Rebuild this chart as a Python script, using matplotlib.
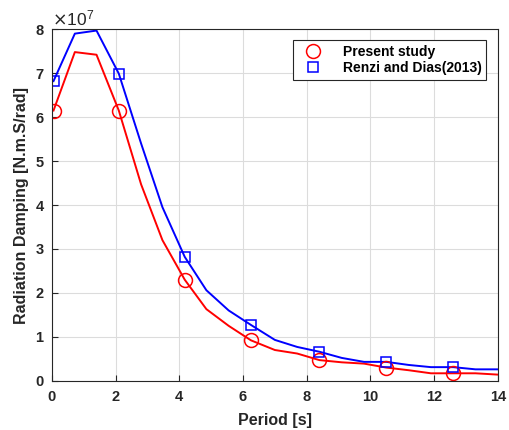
import numpy as np
import matplotlib
matplotlib.use('Agg')
import matplotlib.pyplot as plt
from matplotlib.ticker import ScalarFormatter

plt.rcParams['font.family'] = ['Liberation Sans', 'DejaVu Sans']

# period [s] and radiation damping [x1e7 N.m.S/rad]
period = np.array([0.05, 0.72, 1.40, 2.10, 2.80, 3.47, 4.17, 4.85, 5.55, 6.25,
                   7.00, 7.70, 8.40, 9.10, 9.80, 10.50, 11.20, 11.90, 12.60, 13.30, 14.00])
present = np.array([6.15, 7.48, 7.42, 6.15, 4.47, 3.20, 2.30, 1.63, 1.25, 0.92,
                    0.70, 0.62, 0.47, 0.42, 0.39, 0.30, 0.24, 0.17, 0.17, 0.17, 0.14])
renzi = np.array([6.82, 7.90, 7.97, 6.99, 5.40, 3.95, 2.82, 2.06, 1.60, 1.27,
                  0.93, 0.77, 0.66, 0.52, 0.43, 0.43, 0.36, 0.31, 0.31, 0.26, 0.26])
scale = 1e7

fig = plt.figure(figsize=(5.09, 4.30), dpi=100)
ax = fig.add_axes([0.102, 0.1145, 0.876, 0.8175])

ax.plot(period, present * scale, color='red', lw=1.4)
ax.plot(period, renzi * scale, color='blue', lw=1.4)
ax.plot(period[::3], present[::3] * scale, 'o', color='red', mfc='none', ms=10, mew=1.1,
        label='Present study')
ax.plot(period[::3], renzi[::3] * scale, 's', color='blue', mfc='none', ms=7.5, mew=1.1,
        label='Renzi and Dias(2013)')

ax.set_xlim(0, 14)
ax.set_ylim(0, 8e7)
ax.set_xticks(np.arange(0, 15, 2))
ax.set_yticks(np.arange(0, 9, 1) * scale)
fmt = ScalarFormatter(useMathText=True)
fmt.set_powerlimits((0, 0))
ax.yaxis.set_major_formatter(fmt)
ax.yaxis.get_offset_text().set_fontsize(12.5)

ax.grid(True, color='#dcdcdc', lw=0.8)
ax.set_axisbelow(True)
for s in ax.spines.values():
    s.set_color('#262626')
    s.set_linewidth(0.8)
ax.tick_params(direction='in', length=4, width=0.8, colors='#262626', labelsize=10.5)
ax.tick_params(axis='x', pad=7)
ax.tick_params(axis='y', pad=5)
for lab in ax.get_xticklabels() + ax.get_yticklabels():
    lab.set_fontweight('bold')

ax.set_xlabel('Period [s]', fontsize=11.5, fontweight='bold', color='#262626', labelpad=6)
ax.set_ylabel('Radiation Damping [N.m.S/rad]', fontsize=11.5, fontweight='bold', color='#262626')

leg = ax.legend(loc='upper right', bbox_to_anchor=(0.99, 0.99), fancybox=False,
                edgecolor='#262626', framealpha=1, prop={'weight': 'bold', 'size': 10},
                handlelength=2.2, handletextpad=1.0, borderpad=0.35, labelspacing=0.2)
leg.get_frame().set_linewidth(0.8)

fig.savefig('out.png', dpi=100)
